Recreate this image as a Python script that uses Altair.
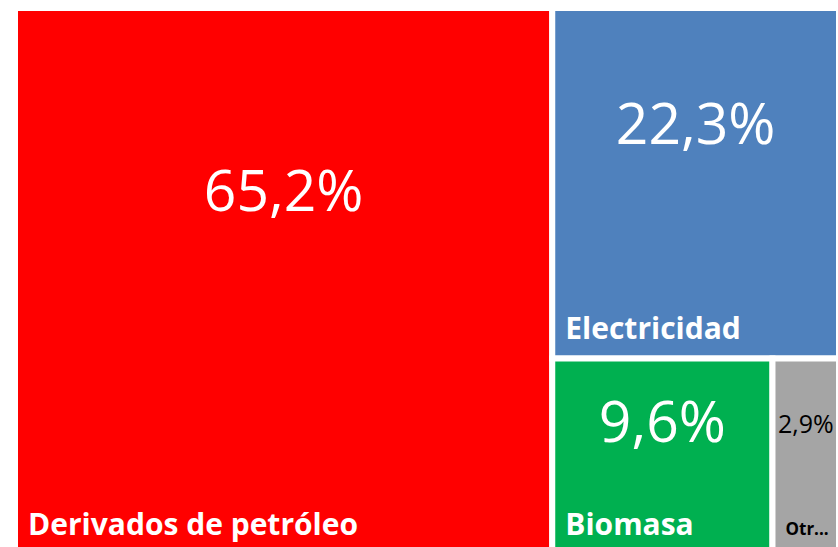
import altair as alt
import pandas as pd

# ---- data ----
categories = ["Derivados de petróleo", "Electricidad", "Biomasa", "Otros"]
values = [65.2, 22.3, 9.6, 2.9]

# ---- style ----
palette = ["#FF0000", "#4F81BD", "#00B050", "#A5A5A5"]
W, H = 838, 547
FRAME = (15, 8, 839, 555)  # treemap frame in pixel space (x0, y0, x1, y1)


def squarify(vals, x, y, w, h):
    total = sum(vals)
    areas = [v * w * h / total for v in vals]
    rects = []

    def layout_row(row, x, y, w, h):
        s = sum(row)
        out = []
        if w >= h:
            cw = s / h
            yy = y
            for a in row:
                rh = a / cw
                out.append((x, yy, x + cw, yy + rh))
                yy += rh
            return out, (x + cw, y, w - cw, h)
        rh = s / w
        xx = x
        for a in row:
            rw = a / rh
            out.append((xx, y, xx + rw, y + rh))
            xx += rw
        return out, (x, y + rh, w, h - rh)

    def worst(row, side):
        s = sum(row)
        return max(max(side * side * a / (s * s), s * s / (side * side * a)) for a in row)

    i, row = 0, []
    while i < len(areas):
        side = min(w, h)
        a = areas[i]
        if not row or worst(row + [a], side) <= worst(row, side):
            row.append(a)
            i += 1
        else:
            out, (x, y, w, h) = layout_row(row, x, y, w, h)
            rects += out
            row = []
    if row:
        out, _ = layout_row(row, x, y, w, h)
        rects += out
    return rects


fx0, fy0, fx1, fy1 = FRAME
rects = squarify(values, fx0, fy0, fx1 - fx0, fy1 - fy0)

df = pd.DataFrame({
    "cat": categories,
    "val": values,
    "x0": [r[0] for r in rects],
    "y0": [r[1] for r in rects],
    "x1": [r[2] for r in rects],
    "y1": [r[3] for r in rects],
})
df["label"] = [f"{v:.1f}".replace(".", ",") + "%" for v in values]
df["cx"] = (df.x0 + df.x1) / 2
df["vy"] = df.y0 + 0.34 * (df.y1 - df.y0)
df["lx"] = df.x0 + 13
df["ly"] = df.y1 - 20
df["small"] = (df.x1 - df.x0) < 100

xs = alt.Scale(domain=[0, W], range=[0, W], nice=False, zero=False)
ys = alt.Scale(domain=[0, H], range=[0, H], nice=False, zero=False)

base = alt.Chart(df)

rect = base.mark_rect(stroke="white", strokeWidth=6).encode(
    x=alt.X("x0:Q", scale=xs, axis=None),
    x2="x1:Q",
    y=alt.Y("y0:Q", scale=ys, axis=None),
    y2="y1:Q",
    color=alt.Color("cat:N", scale=alt.Scale(domain=categories, range=palette), legend=None),
)

val_big = base.transform_filter("!datum.small").mark_text(
    font="Open Sans", fontSize=57, color="white", align="center", baseline="middle"
).encode(
    x=alt.X("cx:Q", scale=xs, axis=None),
    y=alt.Y("vy:Q", scale=ys, axis=None),
    text="label:N",
)

val_small = base.transform_filter("datum.small").mark_text(
    font="Open Sans", fontSize=25, color="black", align="center", baseline="middle"
).encode(
    x=alt.X("cx:Q", scale=xs, axis=None),
    y=alt.Y("vy:Q", scale=ys, axis=None),
    text="label:N",
)

cat_big = base.transform_filter("!datum.small").mark_text(
    font="Open Sans", fontSize=30, fontWeight="bold", color="white",
    align="left", baseline="alphabetic"
).encode(
    x=alt.X("lx:Q", scale=xs, axis=None),
    y=alt.Y("ly:Q", scale=ys, axis=None),
    text="cat:N",
)

cat_small = base.transform_filter("datum.small").mark_text(
    font="Open Sans", fontSize=17, fontWeight="bold", color="black",
    align="left", baseline="alphabetic", limit=45, ellipsis="..."
).encode(
    x=alt.X("lx:Q", scale=xs, axis=None),
    y=alt.Y("ly:Q", scale=ys, axis=None),
    text="cat:N",
)

chart = alt.layer(rect, val_big, val_small, cat_big, cat_small).properties(
    width=W, height=H, padding=0, autosize=alt.AutoSizeParams(type="none"),
    background="white",
).configure_view(stroke=None)

chart.save("out.html", embed_options={"renderer": "svg", "actions": False})
